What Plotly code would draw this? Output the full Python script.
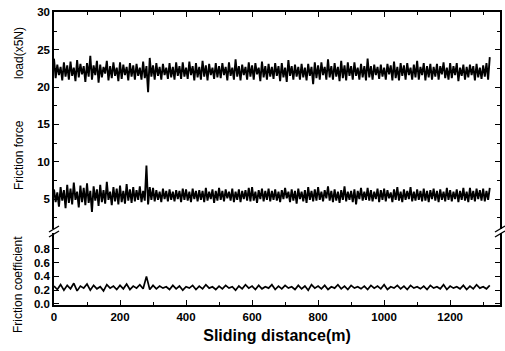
import plotly.graph_objects as go

# Sliding distance grids (m)
distance_fine = list(range(0, 1325, 5))
distance = list(range(0, 1330, 10))

# Load (x5N), sampled every 5 m
load = [
    23.8, 21.2, 23.0, 21.6, 22.7, 20.9, 23.3, 21.4, 22.9, 21.0,
    23.4, 21.5, 22.6, 20.8, 23.6, 21.3, 23.1, 21.7, 22.8, 20.7,
    23.2, 21.4, 24.2, 21.0, 22.9, 21.6, 23.5, 20.6, 23.0, 21.3,
    22.7, 21.8, 23.5, 20.9, 22.8, 21.2, 23.3, 21.5, 22.6, 20.8,
    23.3, 21.1, 23.0, 21.6, 22.7, 20.9, 23.2, 21.4, 22.9, 21.0,
    23.1, 21.5, 22.6, 21.0, 23.4, 21.2, 22.8, 19.3, 23.9, 21.4,
    22.9, 21.0, 23.2, 21.5, 22.7, 21.0, 23.1, 21.6, 22.6, 21.1,
    23.2, 21.3, 22.7, 21.0, 23.3, 21.5, 22.8, 21.1, 23.3, 21.4,
    22.6, 21.1, 23.4, 21.6, 22.8, 20.9, 23.2, 21.3, 22.7, 21.0,
    23.5, 21.4, 22.9, 20.9, 23.1, 21.6, 22.6, 21.1, 23.2, 21.3,
    22.8, 21.2, 23.2, 21.6, 22.7, 20.9, 23.3, 21.5, 22.6, 21.0,
    23.7, 21.4, 22.8, 20.9, 23.0, 21.6, 22.7, 21.0, 23.3, 21.4,
    22.9, 21.0, 23.2, 21.7, 22.6, 20.8, 23.4, 21.3, 22.8, 21.0,
    23.1, 21.4, 22.7, 21.1, 23.2, 21.5, 22.8, 20.8, 23.2, 21.3,
    22.6, 20.7, 23.6, 21.5, 22.8, 21.0, 23.0, 21.4, 22.7, 21.0,
    23.1, 21.3, 22.6, 20.9, 23.1, 21.5, 22.7, 20.4, 23.3, 21.2,
    22.9, 21.0, 23.3, 21.6, 22.7, 21.0, 23.7, 21.3, 22.8, 21.0,
    23.2, 21.4, 22.7, 20.8, 23.5, 21.2, 22.9, 20.9, 23.3, 21.5,
    22.8, 21.0, 23.3, 21.5, 22.6, 21.0, 23.1, 21.3, 22.8, 20.9,
    23.8, 21.3, 22.8, 21.0, 23.0, 21.6, 22.7, 21.1, 23.0, 21.4,
    22.6, 21.0, 23.1, 21.7, 22.9, 20.9, 23.4, 21.2, 22.7, 20.9,
    23.2, 21.5, 22.9, 21.0, 23.2, 21.6, 22.6, 21.0, 23.0, 21.3,
    23.5, 21.0, 22.7, 21.6, 23.2, 20.9, 22.8, 21.3, 23.1, 21.0,
    22.7, 21.4, 23.1, 21.0, 22.8, 21.7, 23.3, 21.2, 22.6, 21.0,
    23.2, 21.2, 22.8, 21.6, 23.2, 20.8, 22.6, 21.5, 23.0, 21.0,
    22.7, 21.3, 23.0, 21.6, 22.8, 20.9, 23.1, 21.3, 22.6, 21.1,
    22.9, 21.4, 23.2, 21.0, 24.0,
]

# Friction force, sampled every 5 m
friction_force = [
    6.3, 4.6, 5.9, 4.0, 6.6, 4.8, 6.2, 3.8, 6.9, 4.5,
    6.4, 4.3, 7.2, 4.9, 6.0, 3.9, 6.8, 4.6, 6.5, 4.2,
    7.1, 4.5, 6.1, 3.3, 6.7, 4.8, 6.3, 4.1, 6.9, 4.6,
    6.2, 4.4, 7.3, 4.9, 6.0, 4.2, 6.6, 4.7, 6.4, 4.3,
    6.8, 4.6, 6.1, 4.4, 7.0, 4.8, 6.3, 4.5, 6.6, 4.7,
    6.2, 4.9, 6.7, 4.6, 6.1, 4.8, 9.5, 4.3, 6.6, 4.9,
    6.5, 4.7, 6.2, 4.9, 6.0, 4.6, 6.4, 5.0, 6.1, 4.7,
    6.3, 4.9, 6.0, 4.7, 6.2, 5.0, 6.1, 4.6, 6.4, 4.9,
    6.3, 4.8, 6.0, 4.6, 6.4, 5.0, 6.1, 4.7, 6.2, 4.9,
    6.1, 4.6, 6.5, 4.8, 6.0, 5.0, 6.3, 4.5, 6.1, 4.8,
    6.5, 4.9, 6.1, 4.7, 6.3, 5.1, 6.0, 4.8, 6.4, 4.6,
    6.0, 4.9, 6.3, 4.6, 6.1, 5.0, 6.2, 4.8, 6.5, 4.7,
    6.6, 4.8, 6.0, 4.5, 6.2, 5.0, 6.4, 4.7, 6.1, 4.9,
    6.4, 4.7, 6.1, 4.9, 6.3, 4.8, 6.0, 4.6, 6.2, 5.0,
    6.5, 5.1, 6.0, 4.6, 6.3, 4.8, 6.1, 4.4, 6.4, 5.0,
    6.0, 4.7, 6.2, 4.5, 6.6, 4.9, 6.1, 4.7, 6.3, 4.8,
    6.6, 4.9, 6.0, 4.7, 6.2, 5.1, 6.7, 4.8, 6.1, 4.6,
    6.3, 4.8, 6.0, 4.5, 6.2, 4.9, 6.7, 4.7, 6.0, 4.9,
    6.1, 4.6, 6.3, 4.3, 6.1, 5.0, 6.5, 4.8, 6.0, 4.9,
    6.5, 4.8, 6.2, 4.7, 6.0, 5.0, 6.4, 4.6, 6.2, 4.9,
    6.4, 4.7, 6.2, 5.1, 5.9, 4.6, 6.3, 4.9, 6.6, 4.8,
    6.0, 4.6, 6.3, 4.9, 6.1, 5.0, 6.6, 4.7, 6.0, 4.8,
    6.3, 4.9, 6.1, 4.7, 6.4, 4.8, 6.1, 4.6, 6.2, 5.0,
    6.4, 4.8, 6.1, 4.6, 6.3, 4.9, 6.0, 4.7, 6.5, 4.9,
    6.2, 4.7, 6.0, 5.0, 6.3, 4.6, 6.1, 4.9, 6.5, 4.8,
    6.0, 4.6, 6.5, 4.9, 6.1, 4.7, 6.4, 5.0, 6.2, 4.8,
    6.4, 4.7, 6.1, 4.9, 6.5,
]

# Friction coefficient, sampled every 10 m
friction_coef = [
    0.26, 0.21, 0.28, 0.20, 0.27, 0.22, 0.30, 0.19, 0.26, 0.23,
    0.29, 0.20, 0.27, 0.22, 0.25, 0.19, 0.28, 0.23, 0.26, 0.21,
    0.27, 0.22, 0.29, 0.21, 0.26, 0.23, 0.28, 0.22, 0.40, 0.21,
    0.27, 0.22, 0.26, 0.23, 0.25, 0.21, 0.27, 0.22, 0.26, 0.20,
    0.25, 0.23, 0.27, 0.21, 0.26, 0.22, 0.28, 0.23, 0.25, 0.21,
    0.26, 0.22, 0.27, 0.23, 0.25, 0.20, 0.26, 0.22, 0.28, 0.23,
    0.26, 0.21, 0.27, 0.22, 0.25, 0.23, 0.28, 0.21, 0.26, 0.22,
    0.27, 0.23, 0.25, 0.21, 0.27, 0.22, 0.26, 0.20, 0.28, 0.23,
    0.26, 0.22, 0.27, 0.21, 0.25, 0.23, 0.28, 0.22, 0.26, 0.21,
    0.27, 0.23, 0.25, 0.22, 0.26, 0.21, 0.27, 0.23, 0.26, 0.22,
    0.28, 0.21, 0.25, 0.23, 0.27, 0.22, 0.26, 0.21, 0.27, 0.23,
    0.25, 0.22, 0.26, 0.21, 0.27, 0.23, 0.25, 0.22, 0.28, 0.21,
    0.26, 0.23, 0.25, 0.22, 0.27, 0.21, 0.26, 0.22, 0.28, 0.23,
    0.25, 0.22, 0.27,
]

x_ticks = [0, 200, 400, 600, 800, 1000, 1200]
top_ticks = [5, 10, 15, 20, 25, 30]
bottom_ticks = [0.0, 0.2, 0.4, 0.6, 0.8]

W, H = 505, 351
ML, MR, MT, MB = 54, 5, 12, 46
plot_w = W - ML - MR
plot_h = H - MT - MB

def py2paper(py):
    return (H - MB - py) / plot_h

def px2paper(px):
    return (px - ML) / plot_w

bot_dom = [0, py2paper(233)]
top_dom = [py2paper(229), 1]

fig = go.Figure()
fig.add_trace(go.Scatter(x=distance_fine, y=load, mode="lines",
                         line=dict(color="black", width=1.9),
                         xaxis="x2", yaxis="y2", name="load"))
fig.add_trace(go.Scatter(x=distance_fine, y=friction_force, mode="lines",
                         line=dict(color="black", width=1.9),
                         xaxis="x2", yaxis="y2", name="Friction force"))
fig.add_trace(go.Scatter(x=distance, y=friction_coef, mode="lines",
                         line=dict(color="black", width=1.7),
                         xaxis="x", yaxis="y", name="Friction coefficient"))

tickfont = dict(family="Arial, Liberation Sans", size=11.5, color="black", weight="bold")
xr = [0, 1351]

fig.update_layout(
    width=W, height=H,
    margin=dict(l=ML, r=MR, t=MT, b=MB, autoexpand=False),
    paper_bgcolor="white", plot_bgcolor="white",
    showlegend=False,
    xaxis=dict(range=xr, autorange=False, anchor="y", tickvals=x_ticks, ticks="inside",
               ticklen=5, automargin=False,
               tickwidth=1.2, tickcolor="black", showline=True, linecolor="black",
               linewidth=1.5, showgrid=False, zeroline=False, tickfont=tickfont,
               minor=dict(ticks="inside", ticklen=3, dtick=100, tickcolor="black"),
               title=dict(text="Sliding distance(m)", standoff=8,
                          font=dict(family="Arial, Liberation Sans", size=16,
                                    color="black", weight="bold"))),
    xaxis2=dict(range=xr, autorange=False, anchor="y2", side="top", tickvals=x_ticks,
                ticks="inside", automargin=False,
                ticklen=5, tickwidth=1.2, tickcolor="black", showticklabels=False,
                showline=True, linecolor="black", linewidth=1.5, showgrid=False,
                zeroline=False,
                minor=dict(ticks="inside", ticklen=3, dtick=100, tickcolor="black")),
    yaxis=dict(domain=bot_dom, range=[-0.015, 1.03], autorange=False, anchor="x",
               tickvals=bottom_ticks, automargin=False,
               tickformat=".1f", ticks="inside", ticklen=5, tickwidth=1.2,
               tickcolor="black", showline=True, mirror="ticks", linecolor="black",
               linewidth=1.5, showgrid=False, zeroline=False, tickfont=tickfont),
    yaxis2=dict(domain=top_dom, range=[1, 30.05], autorange=False, anchor="x2",
                tickvals=top_ticks, automargin=False,
                ticks="inside", ticklen=5, tickwidth=1.2, tickcolor="black",
                showline=True, mirror="ticks", linecolor="black", linewidth=1.5,
                showgrid=False, zeroline=False, tickfont=tickfont,
                minor=dict(ticks="inside", ticklen=3, dtick=2.5, tickcolor="black")),
)

labfont = dict(family="Arial, Liberation Sans", size=12, color="black")
for text, py, px in [("load(x5N)", 53, 19), ("Friction force", 155, 19),
                     ("Friction coefficient", 285, 18)]:
    fig.add_annotation(text=text, textangle=-90, xref="paper", yref="paper",
                       x=px2paper(px), y=py2paper(py), showarrow=False,
                       font=labfont, xanchor="center", yanchor="middle")

# axis-break marks
for bx in (54, 500):
    for by in (229, 234):
        fig.add_shape(type="line", xref="paper", yref="paper",
                      x0=px2paper(bx - 5), y0=py2paper(by + 3),
                      x1=px2paper(bx + 5), y1=py2paper(by - 3),
                      line=dict(color="black", width=1.4))

fig.write_html("out.html", config={"displayModeBar": False},
               post_script="document.body.style.margin='0';"
                           "document.body.style.overflow='hidden';")
